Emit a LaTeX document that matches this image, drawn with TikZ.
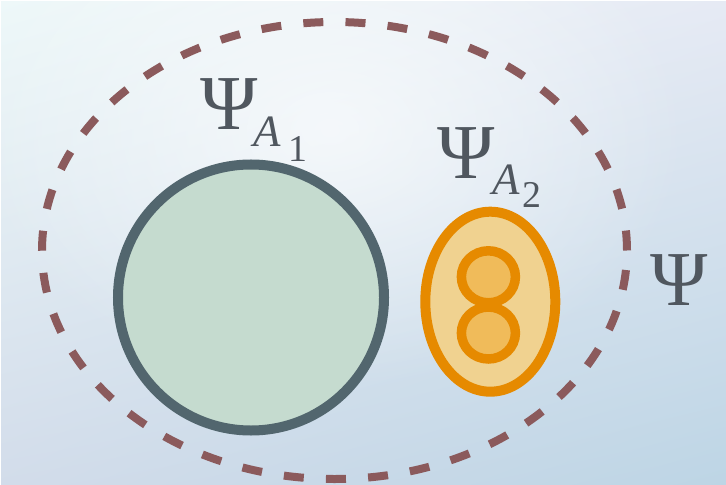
\documentclass[tikz,border=0pt]{standalone}
\usepackage{fontspec}
\setmainfont{Liberation Serif}
\usetikzlibrary{fadings}
\definecolor{dashc}{HTML}{8B5A5C}
\definecolor{greenfill}{HTML}{C5DBCF}
\definecolor{greenline}{HTML}{52666E}
\definecolor{orfill}{HTML}{F0D290}
\definecolor{orline}{HTML}{E68A00}
\definecolor{orin}{HTML}{F0BB5A}
\definecolor{txt}{HTML}{50575F}
\pgfdeclarefunctionalshading{bgshade}{\pgfpointorigin}{\pgfpoint{726bp}{485bp}}{}{
485 div exch 726 div exch
2 copy mul
2 index -0.083 mul 2 index 0.109 mul add 1 index 0.052 mul add 0.824 add
3 index -0.028 mul 3 index 0.110 mul add 2 index -0.027 mul add 0.863 add
4 index -0.020 mul 4 index 0.058 mul add 3 index 0.001 mul add 0.918 add
6 3 roll pop pop pop
}
\tikzfading[name=glow, inner color=transparent!35, outer color=transparent!100]
\tikzset{
  big/.style={inner sep=0pt, anchor=base west, text=txt, font=\fontsize{78}{80}\selectfont},
  subA/.style={inner sep=0pt, anchor=base west, text=txt, font=\fontsize{45}{48}\selectfont\itshape},
  subn/.style={inner sep=0pt, anchor=base west, text=txt, font=\fontsize{38}{40}\selectfont},
  outerset/.style={draw=dashc, line width=8bp, dash pattern=on 20bp off 22.2bp},
}
\begin{document}
\begin{tikzpicture}[x=1bp, y=-1bp]
\useasboundingbox (0,0) rectangle (726,485);
\node[inner sep=0pt, anchor=north west] (bg) at (0,0) {\pgfuseshading{bgshade}};
\fill[white, path fading=glow] (330,130) ellipse [x radius=360bp, y radius=260bp];
% outer dashed ellipse
\coordinate (oc) at (334.5,250.5);
\draw[outerset] (oc) ellipse [x radius=292.5bp, y radius=228.5bp];
% green circle
\coordinate (gc) at (251,297.5);
\draw[greenline, fill=greenfill, line width=10bp] (gc) circle [radius=133bp];
% orange ellipse
\coordinate (ec) at (490.3,301.7);
\draw[orline, fill=orfill, line width=10bp] (ec) ellipse [x radius=65bp, y radius=90bp];
\coordinate (c1) at (488.4,276.8);
\coordinate (c2) at (488.4,333);
\fill[orin] (c1) ellipse [x radius=27bp, y radius=26bp];
\fill[orin] (c2) ellipse [x radius=27bp, y radius=26bp];
\draw[orline, line width=9.5bp] (c1) ellipse [x radius=27bp, y radius=26bp];
\draw[orline, line width=9.5bp] (c2) ellipse [x radius=27bp, y radius=26bp];
% labels
\node[big] (psi1) at (200,130) {Ψ};
\node[subA] (a1) at (253,147) {A};
\node[subn] (n1) at (288,162) {1};
\node[big] (psi2) at (437,178.5) {Ψ};
\node[subA] (a2) at (492,195) {A};
\node[subn] (n2) at (522,208) {2};
\node[big] (psi) at (650,305) {Ψ};
\end{tikzpicture}
\end{document}
